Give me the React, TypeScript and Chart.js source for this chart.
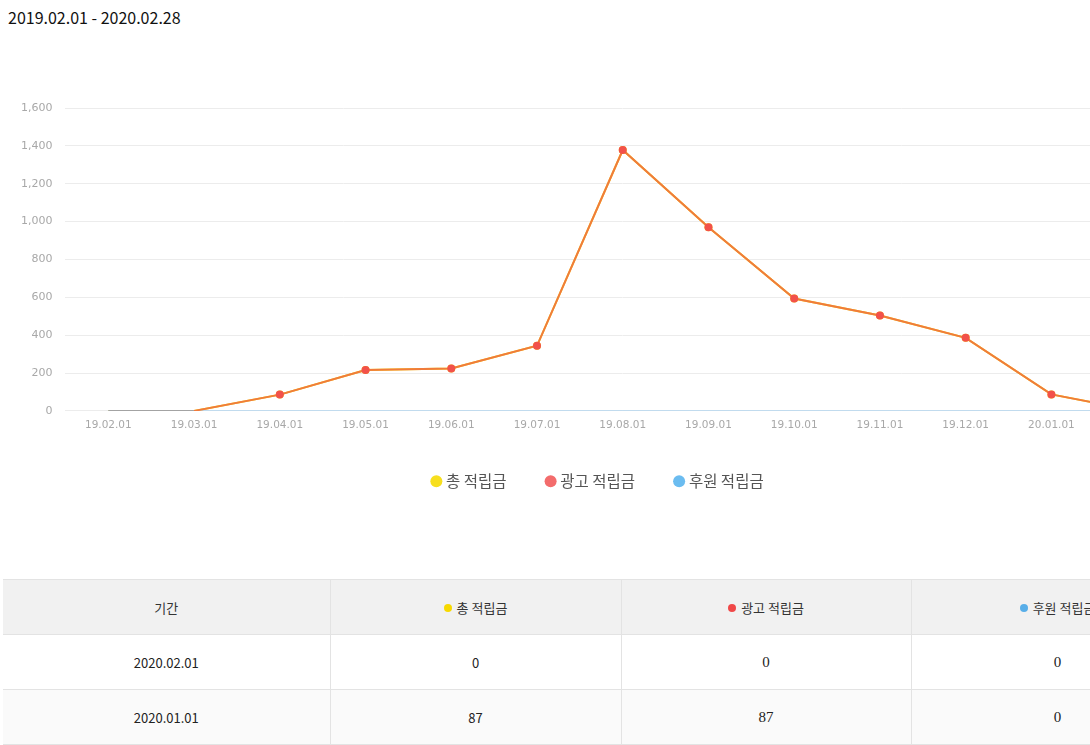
import React, { useEffect, useRef } from "react";
import { Chart, registerables } from "chart.js";

Chart.register(...registerables);

const titleText = "2019.02.01 - 2020.02.28";
const monthLabels = [
  "19.02.01", "19.03.01", "19.04.01", "19.05.01", "19.06.01", "19.07.01",
  "19.08.01", "19.09.01", "19.10.01", "19.11.01", "19.12.01", "20.01.01", "20.02.01",
];
const seriesNames = ["총 적립금", "광고 적립금", "후원 적립금"];
const totalValues = [0, 0, 86, 216, 224, 344, 1378, 970, 594, 504, 386, 87, 0];
const adValues = [0, 0, 86, 216, 224, 344, 1378, 970, 594, 504, 386, 87, 0];
const sponsorValues = [0, 0, 0, 0, 0, 0, 0, 0, 0, 0, 0, 0, 0];
const yTicksMax = 1600;
const yTickStep = 200;

const tableHeader = "기간";
const tableDates = ["2020.02.01", "2020.01.01"];
const tableTotal = [0, 87];
const tableAd = [0, 87];
const tableSponsor = [0, 0];

const legendColors = ["#f7df1e", "#f36c6c", "#6bbcf0"];
const dotColors = ["#f7d900", "#f04848", "#58aee8"];

const KR = '"Noto Sans CJK KR", "Noto Sans", sans-serif';
const TICK = '"DejaVu Sans", Verdana, sans-serif';
const SERIF = '"Liberation Serif", "Times New Roman", serif';

const legendShift = {
  id: "legendShift",
  afterLayout(chart: any) {
    const lg = chart.legend;
    if (lg) {
      lg.top -= 8;
      lg.bottom -= 8;
      lg.left += 5;
      lg.right += 5;
    }
  },
};

export default function App() {
  const canvasRef = useRef<HTMLCanvasElement | null>(null);

  useEffect(() => {
    if (!canvasRef.current) return;
    const zeroRadius = (r: number) => (ctx: any) => (ctx.raw === 0 ? 0 : r);
    const chart = new Chart(canvasRef.current, {
      type: "line",
      data: {
        labels: monthLabels,
        datasets: [
          {
            label: seriesNames[0],
            data: totalValues,
            borderColor: "#f5dd10",
            backgroundColor: "#f5dd10",
            pointBackgroundColor: "#f5dd10",
            pointBorderWidth: 0,
            pointRadius: zeroRadius(4),
            pointHoverRadius: zeroRadius(4),
            borderWidth: 2,
            tension: 0,
            fill: false,
            order: 3,
          },
          {
            label: seriesNames[1],
            data: adValues,
            borderColor: "#f07b3c",
            backgroundColor: "#f2514a",
            pointBackgroundColor: "#f2514a",
            pointBorderColor: "#f2514a",
            pointBorderWidth: 0,
            pointRadius: zeroRadius(4),
            pointHoverRadius: zeroRadius(4),
            borderWidth: 2,
            tension: 0,
            fill: false,
            order: 1,
            segment: {
              borderColor: (ctx: any) =>
                ctx.p0.parsed.y === 0 && ctx.p1.parsed.y === 0 ? "#a3a3a3" : undefined,
            },
          },
          {
            label: seriesNames[2],
            data: sponsorValues,
            borderColor: "#b3d6ef",
            backgroundColor: "#6bbcf0",
            pointBackgroundColor: "#6bbcf0",
            pointRadius: zeroRadius(4),
            pointHoverRadius: zeroRadius(4),
            borderWidth: 1.5,
            tension: 0,
            fill: false,
            order: 2,
          },
        ],
      },
      options: {
        animation: false,
        responsive: true,
        maintainAspectRatio: false,
        layout: { padding: { left: 0, right: 10, top: 40, bottom: 0 } },
        plugins: {
          tooltip: { enabled: false },
          legend: {
            position: "bottom",
            labels: {
              usePointStyle: true,
              pointStyle: "circle",
              boxWidth: 4,
              boxHeight: 8.5,
              padding: 42,
              color: "#555",
              font: { family: KR, size: 15.5 },
              sort: (a: any, b: any) => a.datasetIndex - b.datasetIndex,
              generateLabels: (chart: any) => {
                const items = Chart.defaults.plugins.legend.labels.generateLabels(chart);
                return items.map((it: any) => ({
                  ...it,
                  fillStyle: legendColors[it.datasetIndex],
                  strokeStyle: legendColors[it.datasetIndex],
                  lineWidth: 0,
                }));
              },
            },
          },
        },
        scales: {
          x: {
            offset: true,
            grid: { display: false, drawTicks: false },
            border: { display: false },
            ticks: {
              color: "#a8a8a8",
              padding: 8,
              font: { family: TICK, size: 10.5 },
              maxRotation: 0,
              autoSkip: false,
            },
          },
          y: {
            min: 0,
            max: yTicksMax,
            grid: { color: "#ececec", lineWidth: 1, drawTicks: false },
            border: { display: false },
            ticks: {
              stepSize: yTickStep,
              color: "#a8a8a8",
              padding: 13,
              font: { family: TICK, size: 11 },
            },
          },
        },
      },
      plugins: [legendShift],
    });
    return () => chart.destroy();
  }, []);

  const cellBorder = "1px solid #e3e3e3";
  const headCell: React.CSSProperties = {
    height: 54,
    background: "#f1f1f1",
    borderTop: cellBorder,
    borderBottom: cellBorder,
    borderRight: cellBorder,
    textAlign: "center",
    fontFamily: KR,
    fontSize: 13,
    color: "#333",
    fontWeight: 400,
    padding: 0,
  };
  const bodyCell = (bg: string, font: string, size: number): React.CSSProperties => ({
    height: 54,
    background: bg,
    borderBottom: cellBorder,
    borderRight: cellBorder,
    textAlign: "center",
    fontFamily: font,
    fontSize: size,
    color: "#222",
    padding: 0,
  });
  const dot = (c: string) => (
    <span
      style={{
        display: "inline-block",
        width: 8,
        height: 8,
        borderRadius: 4,
        background: c,
        marginRight: 5,
        verticalAlign: "1px",
      }}
    />
  );

  return (
    <div style={{ position: "fixed", inset: 0, overflow: "hidden", background: "#fff" }}>
      <div
        style={{
          position: "absolute",
          left: 8,
          top: 5,
          fontFamily: KR,
          fontSize: 16,
          color: "#111",
          whiteSpace: "nowrap",
        }}
      >
        {titleText}
      </div>
      <div style={{ position: "absolute", left: 8, top: 68, width: 1182, height: 439 }}>
        <canvas ref={canvasRef} />
      </div>
      <table
        style={{
          position: "absolute",
          left: 3,
          top: 579,
          width: 1201,
          borderCollapse: "collapse",
          tableLayout: "fixed",
        }}
      >
        <colgroup>
          <col style={{ width: 327 }} />
          <col style={{ width: 291 }} />
          <col style={{ width: 290 }} />
          <col style={{ width: 293 }} />
        </colgroup>
        <thead>
          <tr>
            <th style={headCell}>{tableHeader}</th>
            <th style={headCell}>
              {dot(dotColors[0])}
              {seriesNames[0]}
            </th>
            <th style={headCell}>
              {dot(dotColors[1])}
              {seriesNames[1]}
            </th>
            <th style={headCell}>
              {dot(dotColors[2])}
              {seriesNames[2]}
            </th>
          </tr>
        </thead>
        <tbody>
          {tableDates.map((d, i) => {
            const bg = i % 2 === 0 ? "#ffffff" : "#fafafa";
            return (
              <tr key={d}>
                <td style={bodyCell(bg, KR, 13)}>{d}</td>
                <td style={bodyCell(bg, KR, 13)}>{tableTotal[i]}</td>
                <td style={bodyCell(bg, SERIF, 15)}>{tableAd[i]}</td>
                <td style={bodyCell(bg, SERIF, 15)}>{tableSponsor[i]}</td>
              </tr>
            );
          })}
        </tbody>
      </table>
    </div>
  );
}
